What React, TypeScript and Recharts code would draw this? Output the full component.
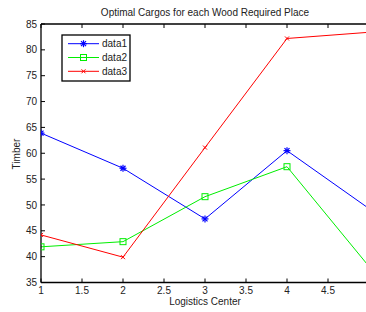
import React from 'react';
import { LineChart, Line, XAxis, YAxis } from 'recharts';

const centers = [1, 2, 3, 4, 5];
const data1 = [63.9, 57.1, 47.3, 60.5, 49.3];
const data2 = [41.9, 42.9, 51.6, 57.4, 38.1];
const data3 = [44.2, 39.9, 61.1, 82.2, 83.4];
const seriesNames = ['data1', 'data2', 'data3'];
const seriesColors = ['#0000ff', '#00ee00', '#ff0000'];
const xTicks = [1, 1.5, 2, 2.5, 3, 3.5, 4, 4.5];
const yTicks = [35, 40, 45, 50, 55, 60, 65, 70, 75, 80, 85];

const rows = centers.map((c, i) => ({
    center: c,
    data1: data1[i],
    data2: data2[i],
    data3: data3[i],
}));

const FONT = '"Liberation Sans", Arial, sans-serif';
const VIEW_W = 366;

const StarMark = ({ cx, cy, color }: { cx: number; cy: number; color: string }) => {
    const r = 3.5;
    const d = 2.5;
    return (
        <g stroke={color} strokeWidth={1.2}>
            <line x1={cx - r} y1={cy} x2={cx + r} y2={cy} />
            <line x1={cx} y1={cy - r} x2={cx} y2={cy + r} />
            <line x1={cx - d} y1={cy - d} x2={cx + d} y2={cy + d} />
            <line x1={cx - d} y1={cy + d} x2={cx + d} y2={cy - d} />
        </g>
    );
};

const SquareMark = ({ cx, cy, color }: { cx: number; cy: number; color: string }) => (
    <rect x={cx - 3} y={cy - 3} width={6} height={6} fill="none" stroke={color} strokeWidth={1} />
);

const CrossMark = ({ cx, cy, color }: { cx: number; cy: number; color: string }) => {
    const d = 2;
    return (
        <g stroke={color} strokeWidth={1}>
            <line x1={cx - d} y1={cy - d} x2={cx + d} y2={cy + d} />
            <line x1={cx - d} y1={cy + d} x2={cx + d} y2={cy - d} />
        </g>
    );
};

const markers = [StarMark, SquareMark, CrossMark];

// the last point sits right on the cropped edge, its marker is not shown there
const makeDot = (idx: number) => (props: any) => {
    const { cx, cy, index } = props;
    if (cx == null || cy == null || cx > VIEW_W - 2) return <g key={`d${idx}-${index}`} />;
    const M = markers[idx];
    return (
        <g key={`d${idx}-${index}`}>
            <M cx={cx} cy={cy} color={seriesColors[idx]} />
        </g>
    );
};

const BottomTick = (props: any) => {
    const { x, y, payload } = props;
    return (
        <g>
            <line x1={x} y1={y} x2={x} y2={y - 4} stroke="#000" />
            <text x={x} y={y + 11} textAnchor="middle" fontSize={10} fontFamily={FONT} fill="#222">
                {payload.value}
            </text>
        </g>
    );
};

const TopTick = (props: any) => {
    const { x, y } = props;
    return <line x1={x} y1={y} x2={x} y2={y + 4} stroke="#000" />;
};

const LeftTick = (props: any) => {
    const { x, y, payload } = props;
    return (
        <g>
            <line x1={x} y1={y} x2={x + 4} y2={y} stroke="#000" />
            <text x={x - 4} y={y + 3.6} textAnchor="end" fontSize={10} fontFamily={FONT} fill="#222">
                {payload.value}
            </text>
        </g>
    );
};

const legendRows = [43.7, 57.5, 71.3];

export default function App() {
    return (
        <div
            style={{
                position: 'fixed',
                left: 0,
                top: 0,
                width: VIEW_W,
                height: 312,
                overflow: 'hidden',
                background: '#fff',
            }}
        >
            <LineChart
                width={380}
                height={312}
                data={rows}
                margin={{ top: 14, right: 11, left: 11, bottom: 9.5 }}
            >
                <XAxis
                    dataKey="center"
                    type="number"
                    domain={[1, 5]}
                    ticks={xTicks}
                    interval={0}
                    height={20}
                    tickSize={0}
                    tickMargin={0}
                    tickLine={false}
                    tick={<BottomTick />}
                    axisLine={{ stroke: '#000', strokeWidth: 1.3 }}
                    allowDataOverflow
                />
                <XAxis
                    xAxisId="top"
                    orientation="top"
                    dataKey="center"
                    type="number"
                    domain={[1, 5]}
                    ticks={xTicks}
                    interval={0}
                    height={10}
                    tickSize={0}
                    tickMargin={0}
                    tickLine={false}
                    tick={<TopTick />}
                    axisLine={{ stroke: '#000', strokeWidth: 1.3 }}
                />
                <YAxis
                    type="number"
                    domain={[35, 85]}
                    ticks={yTicks}
                    interval={0}
                    width={30}
                    tickSize={0}
                    tickMargin={0}
                    tickLine={false}
                    tick={<LeftTick />}
                    axisLine={{ stroke: '#000', strokeWidth: 1.3 }}
                />
                {seriesNames.map((name, i) => (
                    <Line
                        key={name}
                        dataKey={name}
                        type="linear"
                        stroke={seriesColors[i]}
                        strokeWidth={1}
                        dot={makeDot(i)}
                        activeDot={false}
                        isAnimationActive={false}
                    />
                ))}
            </LineChart>
            <svg
                width={VIEW_W}
                height={312}
                style={{ position: 'absolute', left: 0, top: 0, pointerEvents: 'none' }}
                fontFamily={FONT}
            >
                <text x={205} y={16} textAnchor="middle" fontSize={10} fill="#222">
                    Optimal Cargos for each Wood Required Place
                </text>
                <text transform="translate(19.5,154) rotate(-90)" textAnchor="middle" fontSize={10} fill="#222">
                    Timber
                </text>
                <text x={205} y={305} textAnchor="middle" fontSize={10} fill="#222">
                    Logistics Center
                </text>
                <rect x={62} y={35} width={68} height={46} fill="#fff" stroke="#000" strokeWidth={1.3} />
                {seriesNames.map((name, i) => {
                    const y = legendRows[i];
                    const M = markers[i];
                    return (
                        <g key={name}>
                            <line x1={68} y1={y} x2={99} y2={y} stroke={seriesColors[i]} strokeWidth={1} />
                            <M cx={83.5} cy={y} color={seriesColors[i]} />
                            <text x={102} y={y + 3.6} fontSize={10} fill="#222">
                                {name}
                            </text>
                        </g>
                    );
                })}
            </svg>
        </div>
    );
}
